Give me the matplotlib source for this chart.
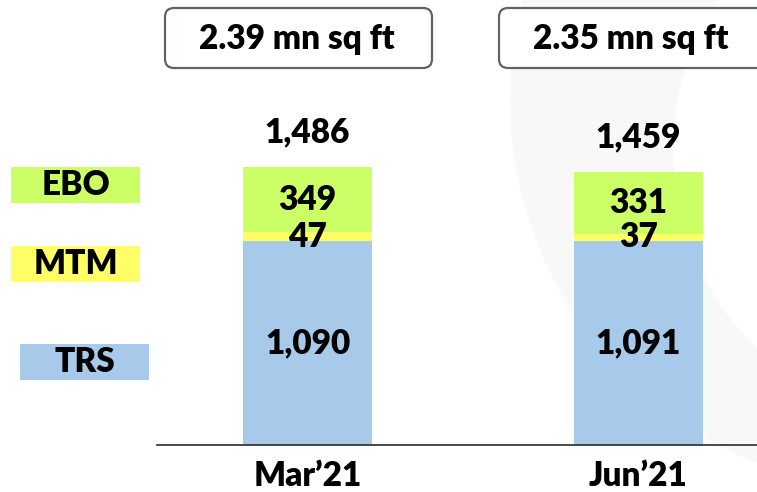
import matplotlib
matplotlib.use('Agg')
import matplotlib.pyplot as plt
import matplotlib.transforms as mtransforms
from matplotlib.patches import Rectangle, FancyBboxPatch, Circle

categories = ["Mar’21", "Jun’21"]
trs = [1090, 1091]
mtm = [47, 37]
ebo = [349, 331]
totals = [1486, 1459]
area_labels = ["2.39 mn sq ft", "2.35 mn sq ft"]
series_names = ["EBO", "MTM", "TRS"]

C_EBO = "#ccff66"
C_MTM = "#ffff66"
C_TRS = "#a7caeb"
FONT = "Lato"
FW = "heavy"
FS = 24

W, H = 757, 492
fig = plt.figure(figsize=(W / 100, H / 100), dpi=100)
px = mtransforms.Affine2D().scale(1 / W, -1 / H).translate(0, 1) + fig.transFigure

# faint watermark crescent
fig.add_artist(Circle((900, 100), 390, transform=px, facecolor="#f8f8f8", edgecolor="none", zorder=-6))
fig.add_artist(Circle((950, 150), 277, transform=px, facecolor="white", edgecolor="none", zorder=-5))

ax = fig.add_axes([157 / W, 47 / H, 600 / W, 445 / H])
ax.set_facecolor("none")
x = list(range(len(categories)))
bw = 0.39
mtm_bottom = trs
ebo_bottom = [a + b for a, b in zip(trs, mtm)]
ax.bar(x, trs, width=bw, color=C_TRS)
ax.bar(x, mtm, width=bw, bottom=mtm_bottom, color=C_MTM)
ax.bar(x, ebo, width=bw, bottom=ebo_bottom, color=C_EBO)

for xi in x:
    for vals, bots in ((trs, [0] * len(x)), (mtm, mtm_bottom), (ebo, ebo_bottom)):
        ax.text(xi, bots[xi] + vals[xi] / 2, f"{vals[xi]:,}", ha="center", va="center",
                fontsize=FS, fontweight=FW, family=FONT)
    ax.annotate(f"{totals[xi]:,}", (xi, totals[xi]), xytext=(0, 25), textcoords="offset points",
                ha="center", va="center", fontsize=FS, fontweight=FW, family=FONT)

ax.set_xlim(-0.4547, 1.358)
ax.set_ylim(0, 2379)
ax.set_xticks(x, categories)
for lab in ax.get_xticklabels():
    lab.set_fontsize(FS)
    lab.set_fontweight(FW)
    lab.set_family(FONT)
ax.tick_params(axis="x", length=0, pad=11)
ax.set_yticks([])
for s in ("left", "right", "top"):
    ax.spines[s].set_visible(False)
ax.spines["bottom"].set_color("#2a2a2a")
ax.spines["bottom"].set_linewidth(1.2)

# legend boxes
legend_boxes = {"EBO": (11, 167, C_EBO), "MTM": (11, 246, C_MTM), "TRS": (20, 344, C_TRS)}
for name in series_names:
    lx, ly, col = legend_boxes[name]
    fig.add_artist(Rectangle((lx, ly), 129, 36, transform=px, facecolor=col, edgecolor="none"))
    fig.text(lx + 64.5, ly + 18, name, transform=px, ha="center", va="center",
             fontsize=FS, fontweight=FW, family=FONT)

# top rounded boxes
box_pos = [(165, 432), (499, 772)]
for (bx0, bx1), lab in zip(box_pos, area_labels):
    fig.add_artist(FancyBboxPatch((bx0, 8), bx1 - bx0, 60, boxstyle="round,pad=0,rounding_size=9",
                                  transform=px, facecolor="white", edgecolor="#5a6469", linewidth=1.6))
    fig.text(bx0 + 132, 39, lab, transform=px, ha="center", va="center",
             fontsize=FS, fontweight=FW, family=FONT)

fig.savefig("out.png", dpi=100)
